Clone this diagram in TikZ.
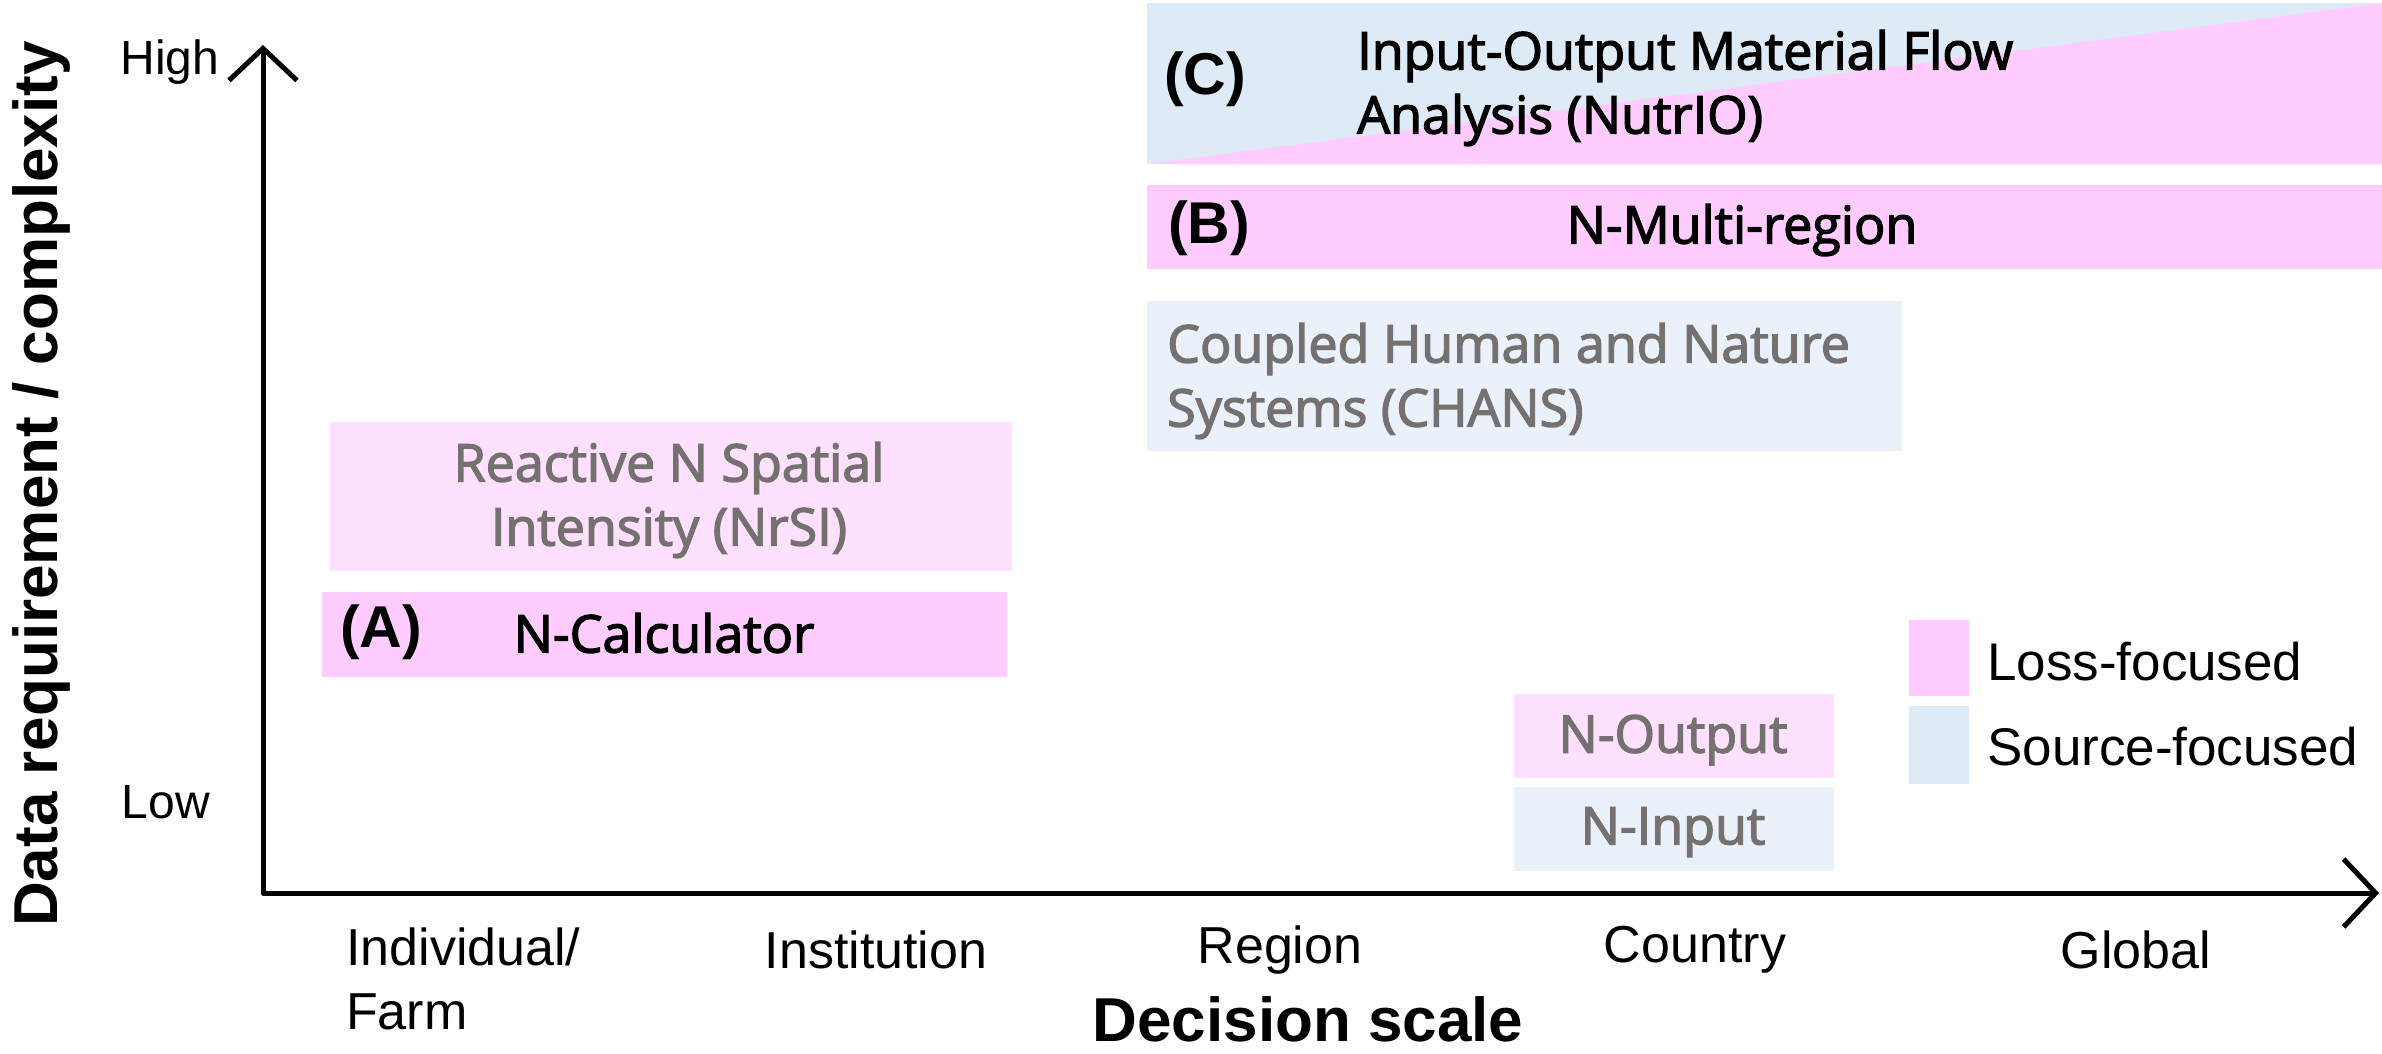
\documentclass[tikz,border=0pt]{standalone}
\usepackage{fontspec}
\setmainfont{Liberation Sans}
\newfontfamily\boxfont{Open Sans}[FakeBold=2.6]
\usetikzlibrary{arrows.meta}
\definecolor{losspink}{RGB}{255,204,255}
\definecolor{losslight}{RGB}{255,225,255}
\definecolor{srcblue}{RGB}{222,235,247}
\definecolor{srclight}{RGB}{234,241,250}
\definecolor{graytxt}{RGB}{118,113,113}
\tikzset{
  panel/.style={anchor=north west, inner sep=0pt, outer sep=0pt, draw=none},
  axis/.style={line width=5bp, line join=round,
    {Straight Barb[length=32bp,width=68bp]}-{Straight Barb[length=32bp,width=68bp]}},
  tick/.style={font=\fontsize{52bp}{64bp}\selectfont, inner sep=0pt},
  ends/.style={font=\fontsize{48bp}{60bp}\selectfont, inner sep=0pt},
  tag/.style={font=\fontsize{59bp}{64bp}\selectfont\bfseries, inner sep=0pt},
  model/.style={font=\boxfont\fontsize{52bp}{64bp}\selectfont, inner sep=0pt},
  faint/.style={model, text=graytxt},
  legtxt/.style={font=\fontsize{53bp}{64bp}\selectfont, inner sep=0pt, anchor=west},
  title/.style={font=\fontsize{62bp}{70bp}\selectfont\bfseries, inner sep=0pt}
}
\begin{document}
\begin{tikzpicture}[x=1bp,y=-1bp]
\useasboundingbox (0,0) rectangle (2382,1053);

% (C) band: source-focused upper left, loss-focused lower right
\fill[srcblue] (1147,3) rectangle (2382,164);
\fill[losspink] (1147,164) -- (2382,3) -- (2382,164) -- cycle;
\node[panel, minimum width=1235bp, minimum height=161bp] (boxC) at (1147,3) {};

% (B) band
\node[panel, fill=losspink, minimum width=1235bp, minimum height=84bp] (boxB) at (1147,185) {};
% CHANS
\node[panel, fill=srclight, minimum width=755bp, minimum height=150bp] (boxCH) at (1147,301) {};
% NrSI
\node[panel, fill=losslight, minimum width=682bp, minimum height=149bp] (boxNr) at (330,422) {};
% (A) band
\node[panel, fill=losspink, minimum width=685bp, minimum height=85bp] (boxA) at (322,592) {};
% N-Output / N-Input
\node[panel, fill=losslight, minimum width=320bp, minimum height=84bp] (boxOut) at (1514,694) {};
\node[panel, fill=srclight, minimum width=320bp, minimum height=84bp] (boxIn) at (1514,787) {};
% legend swatches
\node[panel, fill=losspink, minimum width=60bp, minimum height=76bp] (legL) at (1909,620) {};
\node[panel, fill=srcblue, minimum width=60bp, minimum height=78bp] (legS) at (1909,706) {};

% texts inside the bands
\node[tag] (tC) at (1205,79) {(C)};
\node[model, anchor=west, align=left] (tCtxt) at (1357,88) {Input-Output Material Flow\\Analysis (NutrIO)};
\node[tag] (tB) at (1209,228) {(B)};
\node[model] (tBtxt) at (1742,230) {N-Multi-region};
\node[faint, anchor=west, align=left] (tCH) at (1167,381) {Coupled Human and Nature\\Systems (CHANS)};
\node[faint, align=center] (tNr) at (669,500) {Reactive N Spatial\\Intensity (NrSI)};
\node[tag] (tA) at (381,632) {(A)};
\node[model] (tAtxt) at (664,633) {N-Calculator};
\node[faint] (tOut) at (1673,740) {N-Output};
\node[faint] (tIn) at (1673,832) {N-Input};

% legend
\node[legtxt] (lgL) at (1987,662) {Loss-focused};
\node[legtxt] (lgS) at (1987,747) {Source-focused};

% axes
\coordinate (origin) at (263,893);
\coordinate (ytip) at (263,45);
\coordinate (xtip) at (2379,893);
\draw[axis] (ytip) -- (origin) -- (xtip);

\node[ends] (high) at (170,62) {High};
\node[ends] (low) at (166,802) {Low};
\node[title, rotate=90] (ylab) at (41,484) {Data requirement / complexity};

\node[tick, anchor=west, align=left] (s1) at (346,979) {Individual/\\Farm};
\node[tick] (s2) at (876,950) {Institution};
\node[tick] (s3) at (1280,950) {Region};
\node[tick] (s4) at (1695,950) {Country};
\node[tick] (s5) at (2136,950) {Global};
\node[title] (xlab) at (1308,1019) {Decision scale};
\end{tikzpicture}
\end{document}
